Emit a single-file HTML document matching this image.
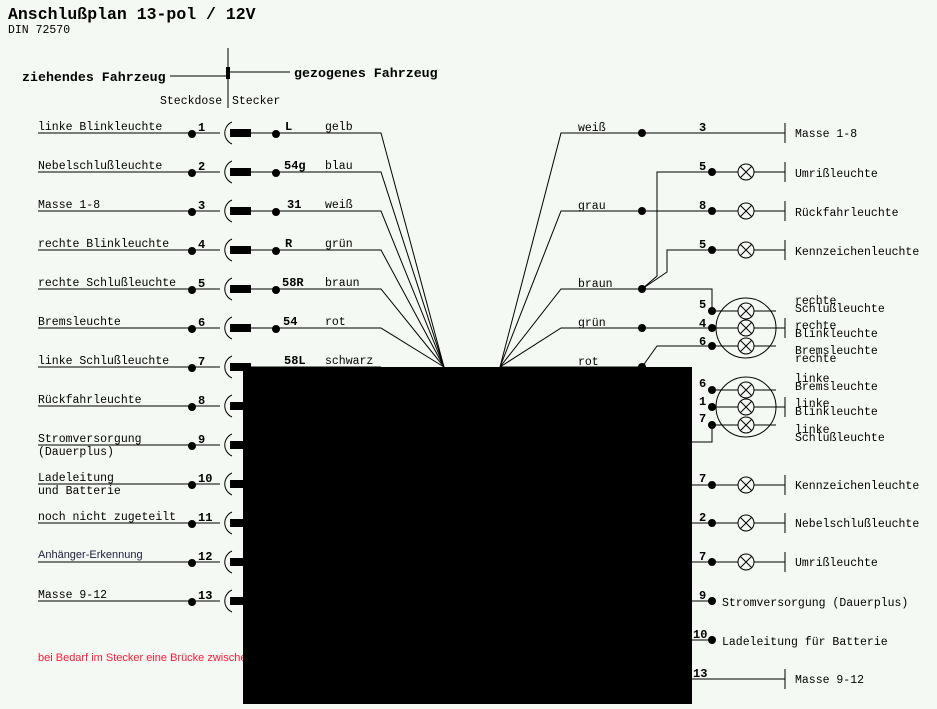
<!DOCTYPE html>
<html><head><meta charset="utf-8"><style>
body{margin:0;background:#f5f9f3;}
svg{display:block}
text{font-family:"Liberation Mono",monospace;font-size:11.5px;fill:#000}
.b{font-weight:bold;font-size:12px}
</style></head><body>
<svg width="937" height="709" viewBox="0 0 937 709">
<rect width="937" height="709" fill="#f5f9f3"/>
<text x="8" y="19" style="font-size:16.5px;font-weight:bold">Anschlußplan 13-pol / 12V</text>
<text x="8" y="33">DIN 72570</text>
<line x1="228" y1="48" x2="228" y2="108" stroke="#000"/>
<rect x="226" y="67" width="4" height="12" fill="#000"/>
<line x1="170" y1="76" x2="226" y2="76" stroke="#000"/>
<line x1="230" y1="72" x2="290" y2="72" stroke="#000"/>
<text x="22" y="81" style="font-weight:bold;font-size:13.3px">ziehendes Fahrzeug</text>
<text x="294" y="77" style="font-weight:bold;font-size:13.3px">gezogenes Fahrzeug</text>
<text x="160" y="104">Steckdose</text>
<text x="232" y="104">Stecker</text>
<g stroke="#000" stroke-width="1" fill="none">
<path d="M38 133H220M251 133H381L444 367"/>
<path d="M38 172H220M251 172H381L444 367"/>
<path d="M38 211H220M251 211H381L444 367"/>
<path d="M38 250H220M251 250H381L444 367"/>
<path d="M38 289H220M251 289H381L444 367"/>
<path d="M38 328H220M251 328H381L444 367"/>
<path d="M38 367H220M251 367H381"/>
<path d="M38 406H220"/><path d="M38 445H220"/><path d="M38 484H220"/><path d="M38 523H220"/><path d="M38 562H220"/><path d="M38 601H220"/>
<path d="M232 122A12 12 0 0 0 232 144M232 161A12 12 0 0 0 232 183M232 200A12 12 0 0 0 232 222M232 239A12 12 0 0 0 232 261M232 278A12 12 0 0 0 232 300M232 317A12 12 0 0 0 232 339M232 356A12 12 0 0 0 232 378M232 395A12 12 0 0 0 232 417M232 434A12 12 0 0 0 232 456M232 473A12 12 0 0 0 232 495M232 512A12 12 0 0 0 232 534M232 551A12 12 0 0 0 232 573M232 590A12 12 0 0 0 232 612"/>
<path d="M500 367L561 133H785M785 123V143"/>
<path d="M500 367L561 211H785M785 201V221"/>
<path d="M500 367L561 289H712V311"/>
<path d="M500 367L561 328H785M785 318V338"/>
<path d="M500 367L561 367H642"/>
<path d="M642 289L657 276V172H785M785 162V182"/>
<path d="M642 289L667 272V250H785M785 240V260"/>
<path d="M642 367L657 346H712"/>
<path d="M712 311H776M712 346H776M712 390H776M712 407H785M712 425H776M785 397V417"/>
<path d="M712 425V442H692"/>
<path d="M692 485H785M785 475V495M692 523H785M785 513V533M692 562H785M785 552V572M692 601H712M692 640H712M692 679H785M785 669V689"/>
<circle cx="746" cy="328" r="30"/><circle cx="746" cy="407" r="30"/>
</g>
<g fill="#000">
<rect x="230" y="129" width="21" height="8"/><rect x="230" y="168" width="21" height="8"/><rect x="230" y="207" width="21" height="8"/><rect x="230" y="246" width="21" height="8"/><rect x="230" y="285" width="21" height="8"/><rect x="230" y="324" width="21" height="8"/><rect x="230" y="363" width="21" height="8"/><rect x="230" y="402" width="21" height="8"/><rect x="230" y="441" width="21" height="8"/><rect x="230" y="480" width="21" height="8"/><rect x="230" y="519" width="21" height="8"/><rect x="230" y="558" width="21" height="8"/><rect x="230" y="597" width="21" height="8"/>
<circle cx="192" cy="134" r="4"/><circle cx="192" cy="173" r="4"/><circle cx="192" cy="212" r="4"/><circle cx="192" cy="251" r="4"/><circle cx="192" cy="290" r="4"/><circle cx="192" cy="329" r="4"/><circle cx="192" cy="368" r="4"/><circle cx="192" cy="407" r="4"/><circle cx="192" cy="446" r="4"/><circle cx="192" cy="485" r="4"/><circle cx="192" cy="524" r="4"/><circle cx="192" cy="563" r="4"/><circle cx="192" cy="602" r="4"/>
<circle cx="276" cy="134" r="4"/><circle cx="276" cy="173" r="4"/><circle cx="276" cy="212" r="4"/><circle cx="276" cy="251" r="4"/><circle cx="276" cy="290" r="4"/><circle cx="276" cy="329" r="4"/>
<circle cx="642" cy="133" r="4"/><circle cx="642" cy="211" r="4"/><circle cx="642" cy="289" r="4"/><circle cx="642" cy="328" r="4"/><circle cx="642" cy="367" r="4"/>
<circle cx="712" cy="172" r="4"/><circle cx="712" cy="211" r="4"/><circle cx="712" cy="250" r="4"/><circle cx="712" cy="311" r="4"/><circle cx="712" cy="328" r="4"/><circle cx="712" cy="346" r="4"/><circle cx="712" cy="390" r="4"/><circle cx="712" cy="407" r="4"/><circle cx="712" cy="425" r="4"/><circle cx="712" cy="485" r="4"/><circle cx="712" cy="523" r="4"/><circle cx="712" cy="562" r="4"/><circle cx="712" cy="601" r="4"/><circle cx="712" cy="640" r="4"/>
</g>
<g stroke="#000" fill="#f5f9f3">
<circle cx="746" cy="172" r="8"/><circle cx="746" cy="211" r="8"/><circle cx="746" cy="250" r="8"/><circle cx="746" cy="311" r="8"/><circle cx="746" cy="328" r="8"/><circle cx="746" cy="346" r="8"/><circle cx="746" cy="390" r="8"/><circle cx="746" cy="407" r="8"/><circle cx="746" cy="425" r="8"/><circle cx="746" cy="485" r="8"/><circle cx="746" cy="523" r="8"/><circle cx="746" cy="562" r="8"/>
<path fill="none" d="M740 166l12 12m0-12l-12 12M740 205l12 12m0-12l-12 12M740 244l12 12m0-12l-12 12M740 305l12 12m0-12l-12 12M740 322l12 12m0-12l-12 12M740 340l12 12m0-12l-12 12M740 384l12 12m0-12l-12 12M740 401l12 12m0-12l-12 12M740 419l12 12m0-12l-12 12M740 479l12 12m0-12l-12 12M740 517l12 12m0-12l-12 12M740 556l12 12m0-12l-12 12"/>
</g>
<g>
<text x="38" y="130">linke Blinkleuchte</text><text x="38" y="169">Nebelschlußleuchte</text><text x="38" y="208">Masse 1-8</text><text x="38" y="247">rechte Blinkleuchte</text><text x="38" y="286">rechte Schlußleuchte</text><text x="38" y="325">Bremsleuchte</text><text x="38" y="364">linke Schlußleuchte</text><text x="38" y="403">Rückfahrleuchte</text><text x="38" y="442">Stromversorgung</text><text x="38" y="455">(Dauerplus)</text><text x="38" y="481">Ladeleitung</text><text x="38" y="494">und Batterie</text><text x="38" y="520">noch nicht zugeteilt</text>
<text x="38" y="558" style="font-family:'Liberation Sans',sans-serif;font-size:11px;fill:#202040">Anhänger-Erkennung</text>
<text x="38" y="598">Masse 9-12</text>
<text x="38" y="661" style="font-family:'Liberation Sans',sans-serif;font-size:11px;fill:#ff1a3a">bei Bedarf im Stecker eine Brücke zwische</text>
<text class="b" x="198" y="131">1</text><text class="b" x="198" y="170">2</text><text class="b" x="198" y="209">3</text><text class="b" x="198" y="248">4</text><text class="b" x="198" y="287">5</text><text class="b" x="198" y="326">6</text><text class="b" x="198" y="365">7</text><text class="b" x="198" y="404">8</text><text class="b" x="198" y="443">9</text><text class="b" x="198" y="482">10</text><text class="b" x="198" y="521">11</text><text class="b" x="198" y="560">12</text><text class="b" x="198" y="599">13</text>
<text class="b" x="285" y="130">L</text><text class="b" x="284" y="169">54g</text><text class="b" x="287" y="208">31</text><text class="b" x="285" y="247">R</text><text class="b" x="282" y="286">58R</text><text class="b" x="283" y="325">54</text><text class="b" x="284" y="364">58L</text>
<text x="325" y="130">gelb</text><text x="325" y="169">blau</text><text x="325" y="208">weiß</text><text x="325" y="247">grün</text><text x="325" y="286">braun</text><text x="325" y="325">rot</text><text x="325" y="364">schwarz</text>
<text x="578" y="131">weiß</text><text x="578" y="209">grau</text><text x="578" y="287">braun</text><text x="578" y="326">grün</text><text x="578" y="365">rot</text>
<text class="b" x="699" y="131">3</text><text class="b" x="699" y="170">5</text><text class="b" x="699" y="209">8</text><text class="b" x="699" y="248">5</text><text class="b" x="699" y="308">5</text><text class="b" x="699" y="327">4</text><text class="b" x="699" y="345">6</text><text class="b" x="699" y="387">6</text><text class="b" x="699" y="405">1</text><text class="b" x="699" y="422">7</text><text class="b" x="699" y="482">7</text><text class="b" x="699" y="521">2</text><text class="b" x="699" y="560">7</text><text class="b" x="699" y="599">9</text><text class="b" x="693" y="638">10</text><text class="b" x="693" y="677">13</text>
<text x="795" y="137">Masse 1-8</text><text x="795" y="177">Umrißleuchte</text><text x="795" y="216">Rückfahrleuchte</text><text x="795" y="255">Kennzeichenleuchte</text>
<text x="795" y="304">rechte</text><text x="795" y="312">Schlußleuchte</text><text x="795" y="329">rechte</text><text x="795" y="337">Blinkleuchte</text><text x="795" y="354">Bremsleuchte</text><text x="795" y="362">rechte</text>
<text x="795" y="382">linke</text><text x="795" y="390">Bremsleuchte</text><text x="795" y="407">linke</text><text x="795" y="415">Blinkleuchte</text><text x="795" y="433">linke</text><text x="795" y="441">Schlußleuchte</text>
<text x="795" y="489">Kennzeichenleuchte</text><text x="795" y="527">Nebelschlußleuchte</text><text x="795" y="566">Umrißleuchte</text>
<text x="722" y="606">Stromversorgung (Dauerplus)</text><text x="722" y="645">Ladeleitung für Batterie</text><text x="795" y="683">Masse 9-12</text>
</g>
<rect x="243" y="367" width="449" height="337" fill="#000"/>
</svg>
</body></html>
